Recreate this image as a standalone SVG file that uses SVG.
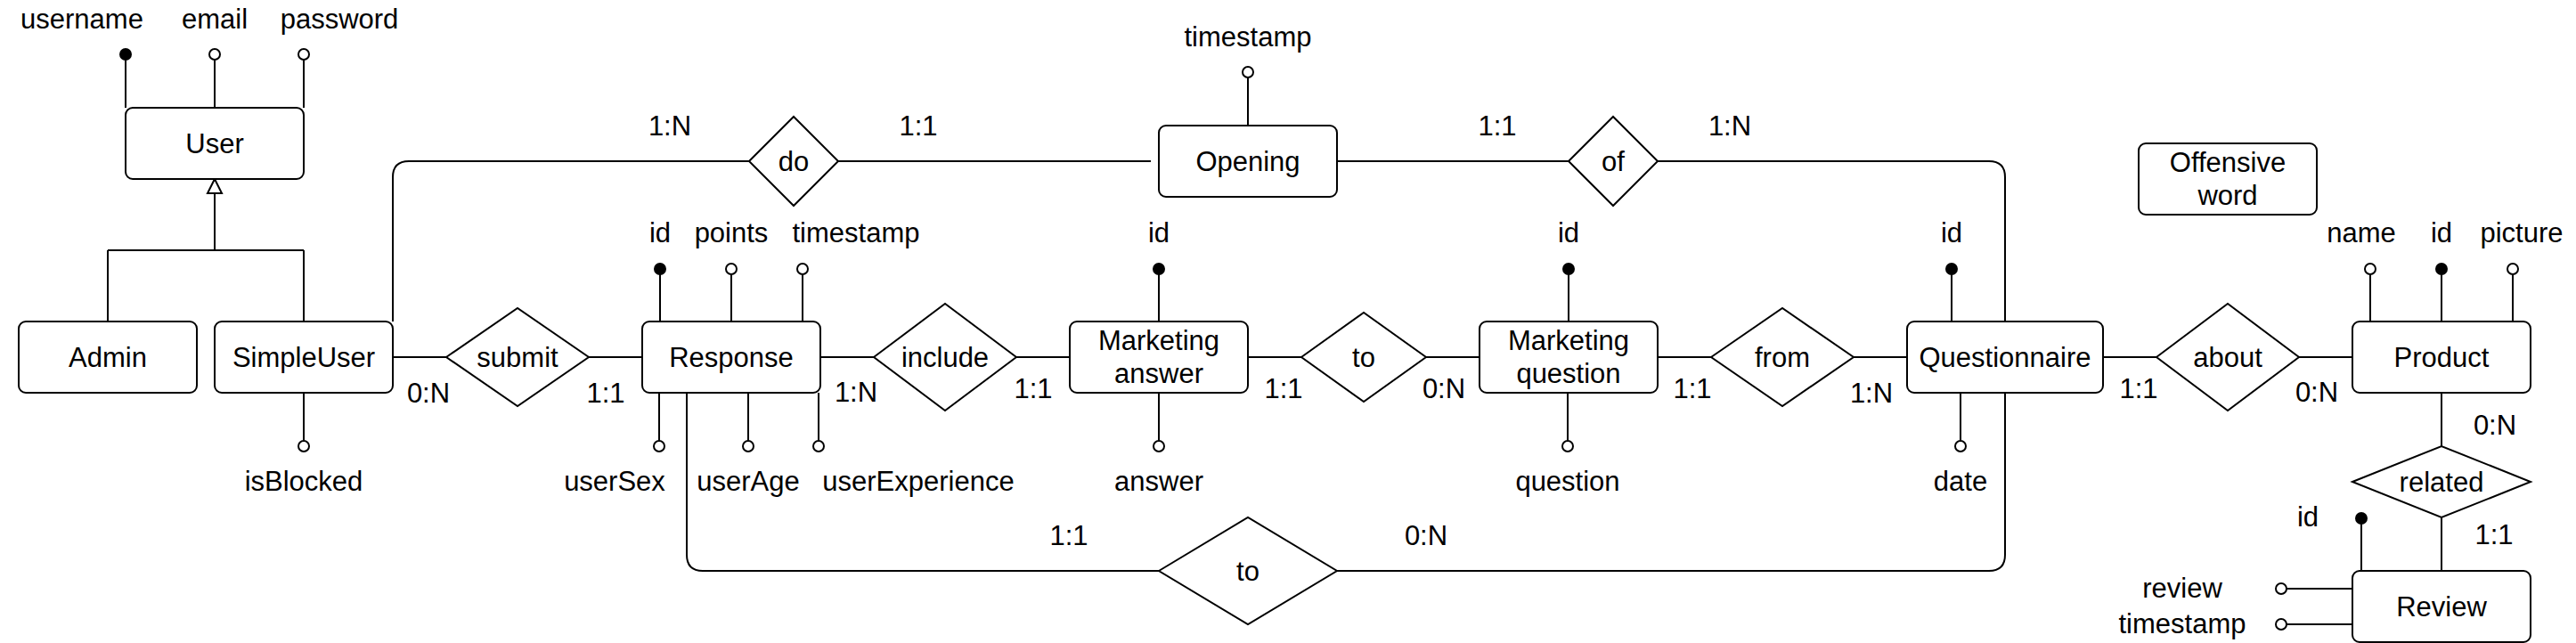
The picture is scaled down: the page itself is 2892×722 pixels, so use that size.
<svg xmlns="http://www.w3.org/2000/svg" width="2892" height="722" viewBox="0 0 2892 722">
<style>
.ent{fill:#fff;stroke:#000;stroke-width:2}
.rel{fill:#fff;stroke:#000;stroke-width:2}
.ln{fill:none;stroke:#000;stroke-width:2}
.t{font-family:"Liberation Sans",Arial,sans-serif;font-size:31px;fill:#000;text-anchor:middle}
.k{fill:#000;stroke:#000;stroke-width:2}
.o{fill:#fff;stroke:#000;stroke-width:2}
</style>
<rect width="2892" height="722" fill="#fff"/>
<g id="connectors">
<path class="ln" d="M141,67V121M241,67V121M341,67V121"/>
<path class="ln" d="M241,217V281M121,281H341M121,281V361M341,281V361"/>
<polygon class="o" points="241,201 233,217 249,217"/>
<path class="ln" d="M441,361V199Q441,181 459,181H841"/>
<path class="ln" d="M940,181H1292"/>
<path class="ln" d="M1501,181H1761"/>
<path class="ln" d="M1861,181H2233Q2251,181 2251,199V361"/>
<path class="ln" d="M1401,87V141"/>
<path class="ln" d="M441,401H501M661,401H721M921,401H981M1141,401H1201M1401,401H1461M1601,401H1661M1861,401H1921M2081,401H2141M2361,401H2421M2581,401H2641"/>
<path class="ln" d="M2741,441V501M2741,581V641"/>
<path class="ln" d="M771,441V623Q771,641 789,641H1301"/>
<path class="ln" d="M1501,641H2233Q2251,641 2251,623V441"/>
<path class="ln" d="M741,308V361M821,308V361M901,308V361M1301,308V361M1761,308V361M2191,308V361M2661,308V361M2741,308V361M2821,308V361"/>
<path class="ln" d="M341,441V495M740,441V495M840,441V495M919,441V495M1301,441V495M1760,441V495M2201,441V495"/>
<path class="ln" d="M2651,588V641M2567,661H2641M2567,701H2641"/>
</g>
<g id="attr-dots">
<circle class="k" cx="141" cy="61" r="6"/>
<circle class="o" cx="241" cy="61" r="6"/>
<circle class="o" cx="341" cy="61" r="6"/>
<circle class="o" cx="1401" cy="81" r="6"/>
<circle class="k" cx="741" cy="302" r="6"/>
<circle class="o" cx="821" cy="302" r="6"/>
<circle class="o" cx="901" cy="302" r="6"/>
<circle class="k" cx="1301" cy="302" r="6"/>
<circle class="k" cx="1761" cy="302" r="6"/>
<circle class="k" cx="2191" cy="302" r="6"/>
<circle class="o" cx="2661" cy="302" r="6"/>
<circle class="k" cx="2741" cy="302" r="6"/>
<circle class="o" cx="2821" cy="302" r="6"/>
<circle class="o" cx="341" cy="501" r="6"/>
<circle class="o" cx="740" cy="501" r="6"/>
<circle class="o" cx="840" cy="501" r="6"/>
<circle class="o" cx="919" cy="501" r="6"/>
<circle class="o" cx="1301" cy="501" r="6"/>
<circle class="o" cx="1760" cy="501" r="6"/>
<circle class="o" cx="2201" cy="501" r="6"/>
<circle class="k" cx="2651" cy="582" r="6"/>
<circle class="o" cx="2561" cy="661" r="6"/>
<circle class="o" cx="2561" cy="701" r="6"/>
</g>
<g id="attr-labels">
<text class="t" x="92" y="32">username</text>
<text class="t" x="241" y="32">email</text>
<text class="t" x="381" y="32">password</text>
<text class="t" x="1401" y="52">timestamp</text>
<text class="t" x="741" y="272">id</text>
<text class="t" x="821" y="272">points</text>
<text class="t" x="961" y="272">timestamp</text>
<text class="t" x="1301" y="272">id</text>
<text class="t" x="1761" y="272">id</text>
<text class="t" x="2191" y="272">id</text>
<text class="t" x="2651" y="272">name</text>
<text class="t" x="2741" y="272">id</text>
<text class="t" x="2831" y="272">picture</text>
<text class="t" x="341" y="551">isBlocked</text>
<text class="t" x="690" y="551">userSex</text>
<text class="t" x="840" y="551">userAge</text>
<text class="t" x="1031" y="551">userExperience</text>
<text class="t" x="1301" y="551">answer</text>
<text class="t" x="1760" y="551">question</text>
<text class="t" x="2201" y="551">date</text>
<text class="t" x="2591" y="591">id</text>
<text class="t" x="2450" y="671">review</text>
<text class="t" x="2450" y="711">timestamp</text>
</g>
<g id="cardinalities">
<text class="t" x="752" y="152">1:N</text>
<text class="t" x="1031" y="152">1:1</text>
<text class="t" x="1681" y="152">1:1</text>
<text class="t" x="1942" y="152">1:N</text>
<text class="t" x="481" y="452">0:N</text>
<text class="t" x="680" y="452">1:1</text>
<text class="t" x="961" y="451">1:N</text>
<text class="t" x="1160" y="447">1:1</text>
<text class="t" x="1441" y="447">1:1</text>
<text class="t" x="1621" y="447">0:N</text>
<text class="t" x="1900" y="447">1:1</text>
<text class="t" x="2101" y="452">1:N</text>
<text class="t" x="2401" y="447">1:1</text>
<text class="t" x="2601" y="451">0:N</text>
<text class="t" x="2801" y="488">0:N</text>
<text class="t" x="2800" y="611">1:1</text>
<text class="t" x="1200" y="612">1:1</text>
<text class="t" x="1601" y="612">0:N</text>
</g>
<g id="User"><rect class="ent" x="141" y="121" width="200" height="80" rx="8"/><text class="t" x="241" y="172">User</text></g>
<g id="Admin"><rect class="ent" x="21" y="361" width="200" height="80" rx="8"/><text class="t" x="121" y="412">Admin</text></g>
<g id="SimpleUser"><rect class="ent" x="241" y="361" width="200" height="80" rx="8"/><text class="t" x="341" y="412">SimpleUser</text></g>
<g id="Opening"><rect class="ent" x="1301" y="141" width="200" height="80" rx="8"/><text class="t" x="1401" y="192">Opening</text></g>
<g id="Response"><rect class="ent" x="721" y="361" width="200" height="80" rx="8"/><text class="t" x="821" y="412">Response</text></g>
<g id="MarketingAnswer"><rect class="ent" x="1201" y="361" width="200" height="80" rx="8"/><text class="t" x="1301" y="393">Marketing</text><text class="t" x="1301" y="430">answer</text></g>
<g id="MarketingQuestion"><rect class="ent" x="1661" y="361" width="200" height="80" rx="8"/><text class="t" x="1761" y="393">Marketing</text><text class="t" x="1761" y="430">question</text></g>
<g id="Questionnaire"><rect class="ent" x="2141" y="361" width="220" height="80" rx="8"/><text class="t" x="2251" y="412">Questionnaire</text></g>
<g id="OffensiveWord"><rect class="ent" x="2401" y="161" width="200" height="80" rx="8"/><text class="t" x="2501" y="193">Offensive</text><text class="t" x="2501" y="230">word</text></g>
<g id="Product"><rect class="ent" x="2641" y="361" width="200" height="80" rx="8"/><text class="t" x="2741" y="412">Product</text></g>
<g id="Review"><rect class="ent" x="2641" y="641" width="200" height="80" rx="8"/><text class="t" x="2741" y="692">Review</text></g>
<g id="do"><polygon class="rel" points="841,181 891,131 941,181 891,231"/><text class="t" x="891" y="192">do</text></g>
<g id="of"><polygon class="rel" points="1761,181 1811,131 1861,181 1811,231"/><text class="t" x="1811" y="192">of</text></g>
<g id="submit"><polygon class="rel" points="501,401 581,346 661,401 581,456"/><text class="t" x="581" y="412">submit</text></g>
<g id="include"><polygon class="rel" points="981,401 1061,341 1141,401 1061,461"/><text class="t" x="1061" y="412">include</text></g>
<g id="to1"><polygon class="rel" points="1461,401 1531,351 1601,401 1531,451"/><text class="t" x="1531" y="412">to</text></g>
<g id="from"><polygon class="rel" points="1921,401 2001,346 2081,401 2001,456"/><text class="t" x="2001" y="412">from</text></g>
<g id="about"><polygon class="rel" points="2421,401 2501,341 2581,401 2501,461"/><text class="t" x="2501" y="412">about</text></g>
<g id="related"><polygon class="rel" points="2641,541 2741,501 2841,541 2741,581"/><text class="t" x="2741" y="552">related</text></g>
<g id="to2"><polygon class="rel" points="1301,641 1401,581 1501,641 1401,701"/><text class="t" x="1401" y="652">to</text></g>
</svg>
